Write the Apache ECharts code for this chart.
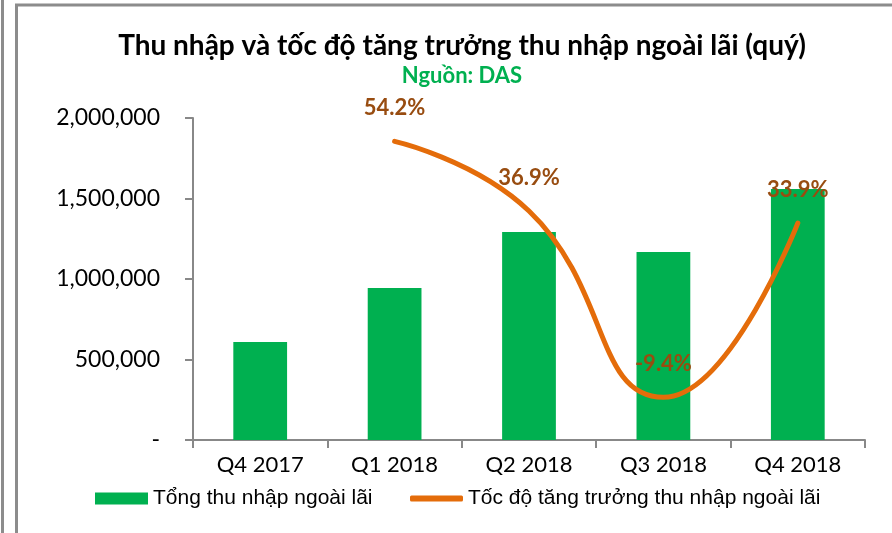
<!DOCTYPE html>
<html>
<head>
<meta charset="utf-8">
<script src="https://cdn.jsdelivr.net/npm/echarts@6/dist/echarts.min.js"></script>
<style>
  html, body { margin: 0; padding: 0; background: #fff; }
  #chart { width: 892px; height: 533px; }
</style>
</head>
<body>
<div id="chart"></div>
<script>
// Dữ liệu
const categories = ['Q4 2017', 'Q1 2018', 'Q2 2018', 'Q3 2018', 'Q4 2018'];
const totalIncome = [608000, 944000, 1292000, 1168000, 1559000];
const growthRate = ['-', 54.2, 36.9, -9.4, 33.9];
const seriesNames = ['Tổng thu nhập ngoài lãi', 'Tốc độ tăng trưởng thu nhập ngoài lãi'];

const font = 'Lato';
const legendFont = 'Liberation Sans';
const chart = echarts.init(document.getElementById('chart'));

const option = {
  backgroundColor: '#fff',
  animation: false,
  title: [
    {
      text: 'Thu nhập và tốc độ tăng trưởng thu nhập ngoài lãi (quý)',
      left: 457,
      textAlign: 'center',
      top: 27,
      textStyle: { fontFamily: font, fontSize: 28, fontWeight: 'bold', color: '#000' }
    },
    {
      text: 'Nguồn: DAS',
      left: 457,
      textAlign: 'center',
      top: 60,
      textStyle: { fontFamily: font, fontSize: 22, fontWeight: 'bold', color: '#00B050' }
    }
  ],
  graphic: [
    // khung viền xám
    { type: 'line', shape: { x1: 2.5, y1: 0, x2: 2.5, y2: 533 }, style: { stroke: '#8c8c8c', lineWidth: 3 } },
    { type: 'line', shape: { x1: 16.5, y1: 5, x2: 16.5, y2: 533 }, style: { stroke: '#8c8c8c', lineWidth: 3 } },
    { type: 'line', shape: { x1: 15, y1: 5, x2: 892, y2: 5 }, style: { stroke: '#8c8c8c', lineWidth: 3 } }
  ],
  legend: [
    {
      left: 95,
      top: 488,
      padding: 0,
      itemWidth: 53,
      itemHeight: 12,
      textStyle: { fontFamily: legendFont, fontSize: 21, color: '#000' },
      data: [{ name: seriesNames[0], icon: 'rect' }]
    },
    {
      left: 410,
      top: 488,
      padding: 0,
      itemWidth: 53,
      itemHeight: 6,
      textStyle: { fontFamily: legendFont, fontSize: 21, color: '#000' },
      data: [{ name: seriesNames[1], icon: 'roundRect' }]
    }
  ],
  grid: { left: 193, top: 118, right: 27, bottom: 93 },
  xAxis: {
    type: 'category',
    data: categories,
    axisLine: { lineStyle: { color: '#888', width: 2 } },
    axisTick: { show: true, length: 8, lineStyle: { color: '#888', width: 2 } },
    axisLabel: { fontFamily: font, fontSize: 22, color: '#000', margin: 14 }
  },
  yAxis: [
    {
      type: 'value',
      min: 0,
      max: 2000000,
      interval: 500000,
      splitLine: { show: false },
      axisLine: { show: true, lineStyle: { color: '#888', width: 2 } },
      axisTick: { show: true, length: 8, lineStyle: { color: '#888', width: 2 } },
      axisLabel: {
        fontFamily: font, fontSize: 23, color: '#000', margin: 33,
        formatter: v => v === 0 ? '-' : v.toLocaleString('en-US')
      }
    },
    {
      type: 'value',
      min: -20,
      max: 60,
      interval: 20,
      show: false
    }
  ],
  series: [
    {
      name: seriesNames[0],
      type: 'bar',
      data: totalIncome,
      barWidth: '40%',
      itemStyle: { color: '#00B050' }
    },
    {
      name: seriesNames[1],
      type: 'line',
      yAxisIndex: 1,
      data: growthRate,
      smooth: 0.5,
      symbol: 'circle',
      symbolSize: 1,
      showSymbol: true,
      lineStyle: { color: '#E46C0A', width: 5, cap: 'round' },
      itemStyle: { color: '#E46C0A' },
      label: {
        show: true,
        position: 'top',
        distance: 22,
        fontFamily: font,
        fontSize: 22,
        fontWeight: 'bold',
        color: '#984C10',
        formatter: p => p.value.toFixed(1) + '%'
      },
      z: 5
    }
  ]
};

chart.setOption(option);
</script>
</body>
</html>
